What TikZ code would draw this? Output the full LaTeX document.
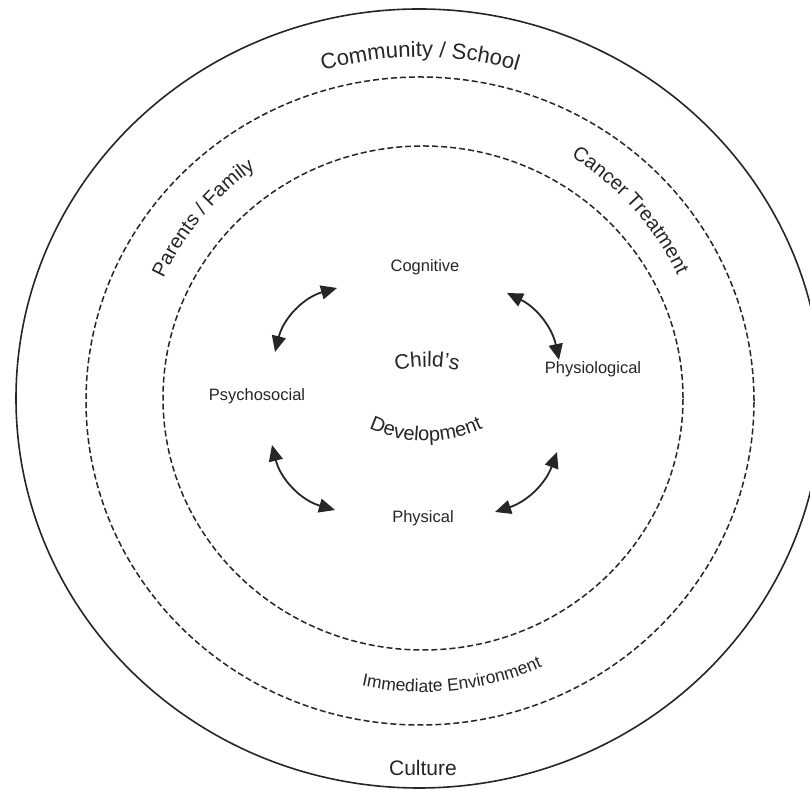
\documentclass[tikz,border=0pt]{standalone}
\usepackage{fontspec}
\setmainfont{Liberation Sans}
\usetikzlibrary{arrows.meta,decorations.text}
\begin{document}
\begin{tikzpicture}[x=1pt,y=1pt,
  ring/.style={draw=black!85, line width=1.6pt},
  dashring/.style={draw=black!85, line width=1.5pt, dash pattern=on 6pt off 3pt},
  lab/.style={text=black!85, font=\fontsize{16.5}{18}\selectfont, inner sep=0pt},
  dblarrow/.style={draw=black!85, line width=1.8pt,
    arrows={Triangle[length=16pt,width=14pt]-Triangle[length=16pt,width=14pt]}}
]
\useasboundingbox (0,0) rectangle (810,791);
\clip (0,0) rectangle (810,791);
\fill[white] (0,0) rectangle (810,791);

% rings
\draw[ring] (419,392.5) ellipse [x radius=403, y radius=389.5];
\draw[dashring] (420,390) ellipse [x radius=334, y radius=324];
\draw[dashring] (423,393) ellipse [x radius=260, y radius=252];

% curved ring labels
\path[decorate, decoration={text along path, text align=center,
  text={|\color{black!85}\fontsize{22}{24}\selectfont|Community / School}}]
  (420,392) ++(150:342) arc[start angle=150, end angle=30, radius=342];
\path[decorate, decoration={text along path, text align=center,
  text={|\color{black!85}\fontsize{20}{22}\selectfont|Parents / Family}}]
  (420,391) ++(200:284) arc[start angle=200, end angle=80, radius=284];
\path[decorate, decoration={text along path, text align=center,
  text={|\color{black!85}\fontsize{20}{22}\selectfont|Cancer Treatment}}]
  (420,391) ++(102:286) arc[start angle=102, end angle=-18, radius=286];
\path[decorate, decoration={text along path, text align=center,
  text={|\color{black!85}\fontsize{17.5}{19}\selectfont|Immediate Environment}}]
  (423,391) ++(206:292) arc[start angle=206, end angle=346, radius=292];
\path[decorate, decoration={text along path, text align=center,
  text={|\color{black!85}\fontsize{21}{23}\selectfont|Child's}}]
  (427,294) ++(130:130) arc[start angle=130, end angle=50, radius=130];
\path[decorate, decoration={text along path, text align=center,
  text={|\color{black!85}\fontsize{20}{22}\selectfont|Development}}]
  (426,486) ++(225:136) arc[start angle=225, end angle=315, radius=136];

% straight labels
\node[lab, font=\fontsize{21}{23}\selectfont, anchor=base] (cult) at (423,15) {Culture};
\node[lab, anchor=base] (cog) at (425,519) {Cognitive};
\node[lab, anchor=base] (psy) at (257,390) {Psychosocial};
\node[lab, anchor=base] (phyl) at (593,417) {Physiological};
\node[lab, anchor=base] (phys) at (423,268) {Physical};

% arrow ends
\coordinate (a1s) at (275,439); \coordinate (a1e) at (337,503);
\coordinate (a2s) at (507,498); \coordinate (a2e) at (559,431);
\coordinate (a3s) at (272,346); \coordinate (a3e) at (335,281);
\coordinate (a4s) at (557,339); \coordinate (a4e) at (495,279);

\draw[dblarrow] (a1s) to[bend left=30] (a1e);
\draw[dblarrow] (a2s) to[bend left=26] (a2e);
\draw[dblarrow] (a3s) to[bend right=30] (a3e);
\draw[dblarrow] (a4s) to[bend left=26] (a4e);
\end{tikzpicture}
\end{document}
